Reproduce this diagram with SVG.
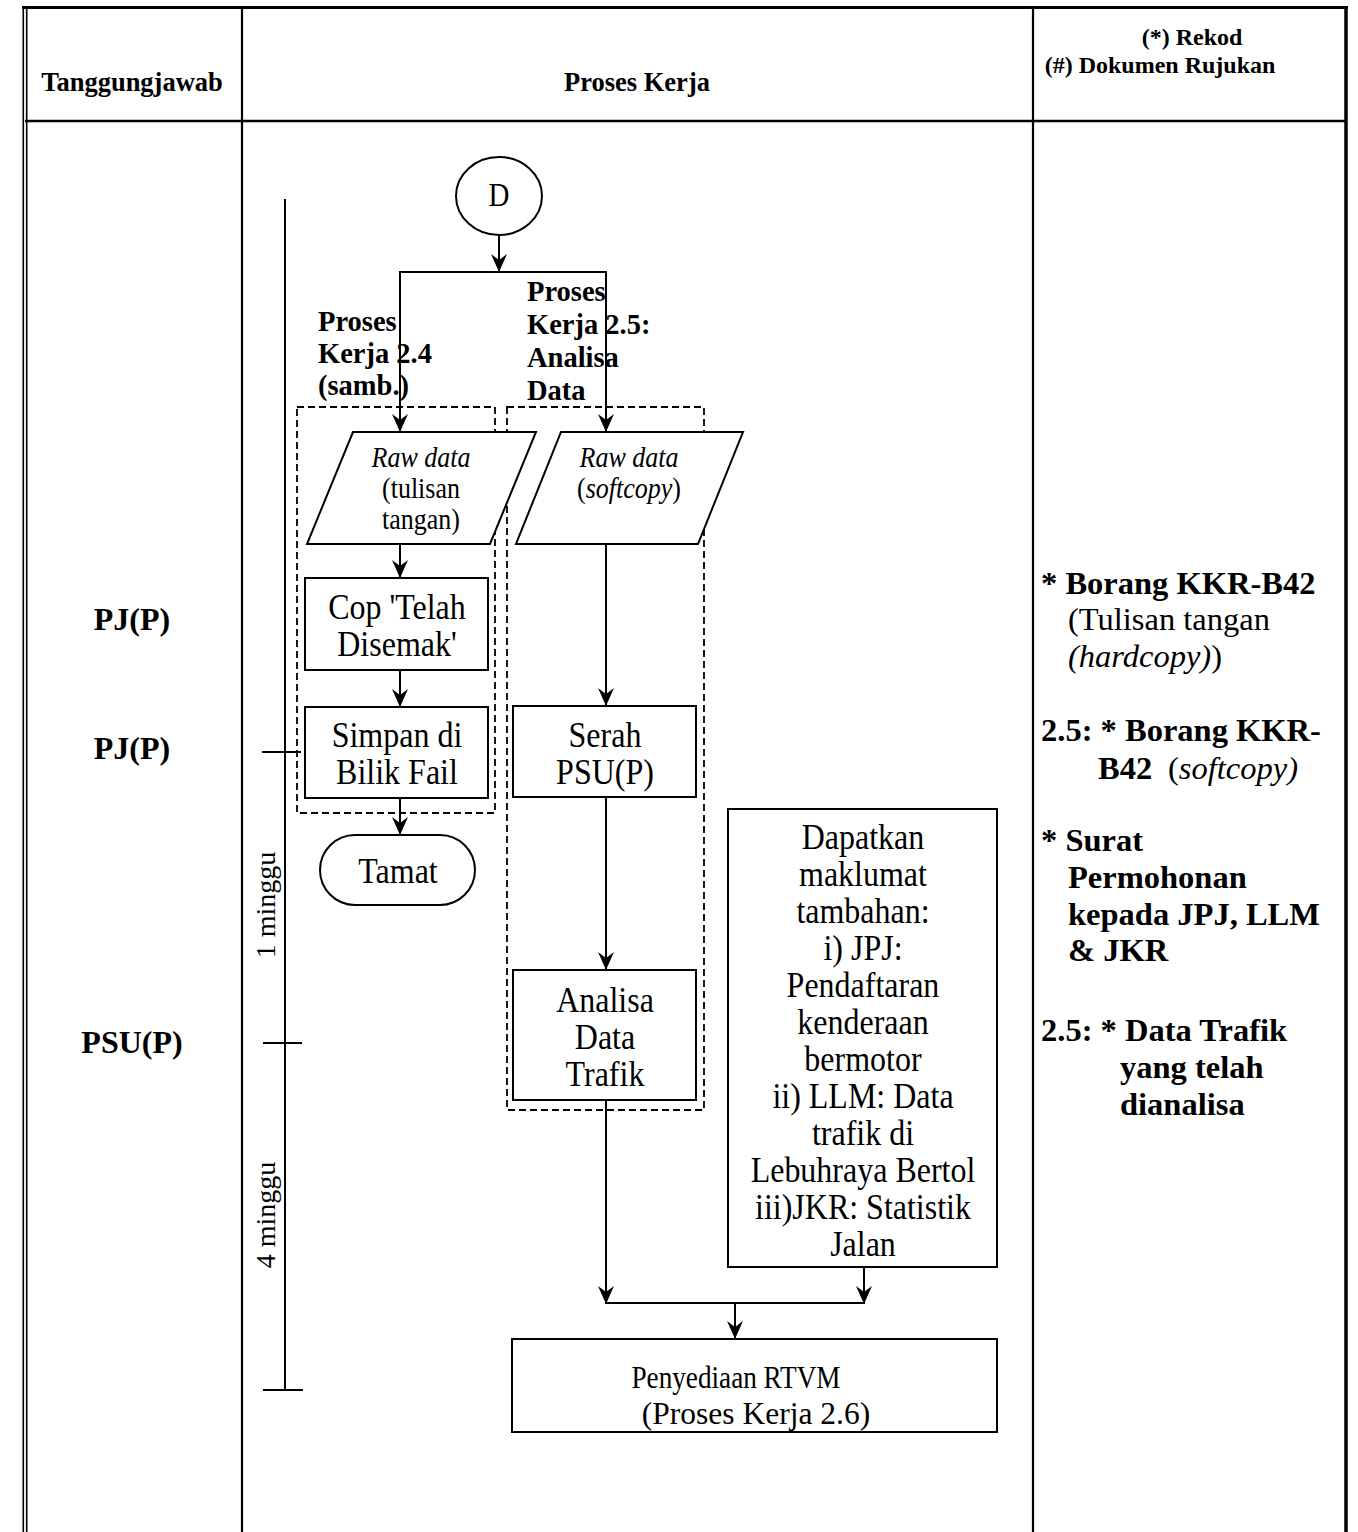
<svg xmlns="http://www.w3.org/2000/svg" width="1358" height="1532" viewBox="0 0 1358 1532">
<style>
  text { font-family: "Liberation Serif", "Times New Roman", serif; fill: #000; }
  .b { font-weight: bold; }
  .i { font-style: italic; }
  .c { text-anchor: middle; }
  .tall { transform-box: fill-box; transform-origin: 50% 80.5%; transform: scaleY(1.15); }
  .hd { font-size: 26.5px; font-weight: bold; }
  .hs { font-size: 24px; font-weight: bold; }
  .role { font-size: 32px; font-weight: bold; text-anchor: middle; }
  .box { font-size: 32px; text-anchor: middle; }
  .raw { font-size: 26px; text-anchor: middle; }
  .lbl { font-size: 28.5px; font-weight: bold; }
  .rec { font-size: 32.5px; }
  .wk { font-size: 28px; text-anchor: middle; }
  .shape { fill: #fff; stroke: #000; stroke-width: 2; }
  .dash { fill: none; stroke: #000; stroke-width: 1.8; stroke-dasharray: 7 4; }
  .grid { stroke: #000; fill: none; }
  .ln { stroke: #000; stroke-width: 2; fill: none; }
  .arr { stroke: #000; stroke-width: 2; fill: none; marker-end: url(#ah); }
</style>
<defs>
  <marker id="ah" viewBox="-19 -9 20 18" refX="0" refY="0" markerWidth="20" markerHeight="18" markerUnits="userSpaceOnUse" orient="auto">
    <path d="M0,0 L-18,-8 L-12,0 L-18,8 Z" fill="#000"/>
  </marker>
</defs>
<rect x="0" y="0" width="1358" height="1532" fill="#fff"/>

<g id="table">
  <line class="grid" x1="22" y1="7.5" x2="1348" y2="7.5" stroke-width="3"/>
  <line class="grid" x1="23.3" y1="6" x2="23.3" y2="1532" stroke-width="1.6"/>
  <line class="grid" x1="26.7" y1="6" x2="26.7" y2="1532" stroke-width="1.6"/>
  <line class="grid" x1="1346" y1="6" x2="1346" y2="1532" stroke-width="3.5"/>
  <line class="grid" x1="242" y1="7" x2="242" y2="1532" stroke-width="2.2"/>
  <line class="grid" x1="1033" y1="7" x2="1033" y2="1532" stroke-width="2.2"/>
  <line class="grid" x1="25" y1="121" x2="1346" y2="121" stroke-width="2.5"/>
  <text class="hd c" x="132" y="91">Tanggungjawab</text>
  <text class="hd c" x="637" y="91">Proses Kerja</text>
  <text class="hs c" x="1192" y="45">(*) Rekod</text>
  <text class="hs c" x="1160" y="73">(#) Dokumen Rujukan</text>
</g>

<g id="roles">
  <text class="role" x="132" y="630">PJ(P)</text>
  <text class="role" x="132" y="759">PJ(P)</text>
  <text class="role" x="132" y="1053">PSU(P)</text>
</g>

<g id="timeline">
  <line class="ln" x1="285" y1="199" x2="285" y2="1390"/>
  <line class="ln" x1="262" y1="752" x2="301" y2="752"/>
  <line class="ln" x1="263" y1="1043" x2="302" y2="1043"/>
  <line class="ln" x1="263" y1="1390" x2="303" y2="1390" stroke-width="2.6"/>
  <text class="wk" x="275" y="905" transform="rotate(-90 275 905)">1 minggu</text>
  <text class="wk" x="275" y="1215" transform="rotate(-90 275 1215)">4 minggu</text>
</g>

<g id="groups">
  <rect class="dash" x="297" y="407" width="198" height="406"/>
  <rect class="dash" x="507" y="407" width="197" height="703"/>
</g>

<g id="connectors">
  <line class="arr" x1="499" y1="235" x2="499" y2="272"/>
  <polyline class="ln" points="400,430 400,272 606,272 606,430"/>
  <line class="arr" x1="400" y1="400" x2="400" y2="432"/>
  <line class="arr" x1="606" y1="400" x2="606" y2="432"/>
  <line class="arr" x1="400" y1="544" x2="400" y2="578"/>
  <line class="arr" x1="400" y1="670" x2="400" y2="707"/>
  <line class="arr" x1="400" y1="798" x2="400" y2="835"/>
  <line class="arr" x1="606" y1="544" x2="606" y2="706"/>
  <line class="arr" x1="606" y1="797" x2="606" y2="970"/>
  <line class="arr" x1="606" y1="1100" x2="606" y2="1304"/>
  <line class="arr" x1="864" y1="1267" x2="864" y2="1304"/>
  <line class="ln" x1="606" y1="1303" x2="864" y2="1303"/>
  <line class="arr" x1="735" y1="1303" x2="735" y2="1339"/>
</g>

<g id="labels">
  <text class="lbl" x="318" y="331">Proses</text>
  <text class="lbl" x="318" y="363">Kerja 2.4</text>
  <text class="lbl" x="318" y="395">(samb.)</text>
  <text class="lbl" x="527" y="301">Proses</text>
  <text class="lbl" x="527" y="334">Kerja 2.5:</text>
  <text class="lbl" x="527" y="367">Analisa</text>
  <text class="lbl" x="527" y="400">Data</text>
</g>

<g id="node-d">
  <ellipse class="shape" cx="499" cy="196" rx="43" ry="39"/>
  <text class="box tall" x="499" y="206" style="font-size:29px">D</text>
</g>

<g id="node-raw1">
  <polygon class="shape" points="353,432 536,432 490,544 307,544"/>
  <text class="raw i tall" x="421" y="467">Raw data</text>
  <text class="raw tall" x="421" y="498">(tulisan</text>
  <text class="raw tall" x="421" y="529">tangan)</text>
</g>

<g id="node-raw2">
  <polygon class="shape" points="561,432 743,432 698,544 516,544"/>
  <text class="raw i tall" x="629" y="467">Raw data</text>
  <text class="raw tall" x="629" y="498">(<tspan class="i">softcopy</tspan>)</text>
</g>

<g id="node-cop">
  <rect class="shape" x="305" y="578" width="183" height="92"/>
  <text class="box tall" x="397" y="619">Cop 'Telah</text>
  <text class="box tall" x="397" y="656">Disemak'</text>
</g>

<g id="node-simpan">
  <rect class="shape" x="305" y="707" width="183" height="91"/>
  <text class="box tall" x="397" y="747">Simpan di</text>
  <text class="box tall" x="397" y="784">Bilik Fail</text>
</g>

<g id="node-tamat">
  <rect class="shape" x="320" y="835" width="155" height="70" rx="35" ry="35"/>
  <text class="box tall" x="398" y="883">Tamat</text>
</g>

<g id="node-serah">
  <rect class="shape" x="513" y="706" width="183" height="91"/>
  <text class="box tall" x="605" y="747">Serah</text>
  <text class="box tall" x="605" y="784">PSU(P)</text>
</g>

<g id="node-analisa">
  <rect class="shape" x="513" y="970" width="183" height="130"/>
  <text class="box tall" x="605" y="1012">Analisa</text>
  <text class="box tall" x="605" y="1049">Data</text>
  <text class="box tall" x="605" y="1086">Trafik</text>
</g>

<g id="node-dapatkan">
  <rect class="shape" x="728" y="809" width="269" height="458"/>
  <text class="box tall" x="863" y="849">Dapatkan</text>
  <text class="box tall" x="863" y="886">maklumat</text>
  <text class="box tall" x="863" y="923">tambahan:</text>
  <text class="box tall" x="863" y="960">i)  JPJ:</text>
  <text class="box tall" x="863" y="997">Pendaftaran</text>
  <text class="box tall" x="863" y="1034">kenderaan</text>
  <text class="box tall" x="863" y="1071">bermotor</text>
  <text class="box tall" x="863" y="1108">ii) LLM: Data</text>
  <text class="box tall" x="863" y="1145">trafik di</text>
  <text class="box tall" x="863" y="1182">Lebuhraya Bertol</text>
  <text class="box tall" x="863" y="1219">iii)JKR: Statistik</text>
  <text class="box tall" x="863" y="1256">Jalan</text>
</g>

<g id="node-penyediaan">
  <rect class="shape" x="512" y="1339" width="485" height="93"/>
  <text class="box" x="736" y="1388" style="font-size:31.5px" textLength="209" lengthAdjust="spacingAndGlyphs">Penyediaan RTVM</text>
  <text class="box" x="756" y="1424" style="font-size:31.5px">(Proses Kerja 2.6)</text>
</g>

<g id="records">
  <text class="rec b" x="1041" y="594">* Borang KKR-B42</text>
  <text class="rec" x="1068" y="630">(Tulisan tangan</text>
  <text class="rec" x="1068" y="667"><tspan class="i">(hardcopy)</tspan>)</text>
  <text class="rec b" x="1041" y="741">2.5: * Borang KKR-</text>
  <text class="rec" x="1098" y="779"><tspan class="b">B42</tspan><tspan x="1168">(</tspan><tspan class="i">softcopy)</tspan></text>
  <text class="rec b" x="1041" y="851">* Surat</text>
  <text class="rec b" x="1068" y="888">Permohonan</text>
  <text class="rec b" x="1068" y="925">kepada JPJ, LLM</text>
  <text class="rec b" x="1068" y="961">&amp; JKR</text>
  <text class="rec b" x="1041" y="1041">2.5: * Data Trafik</text>
  <text class="rec b" x="1120" y="1078">yang telah</text>
  <text class="rec b" x="1120" y="1115">dianalisa</text>
</g>
</svg>
